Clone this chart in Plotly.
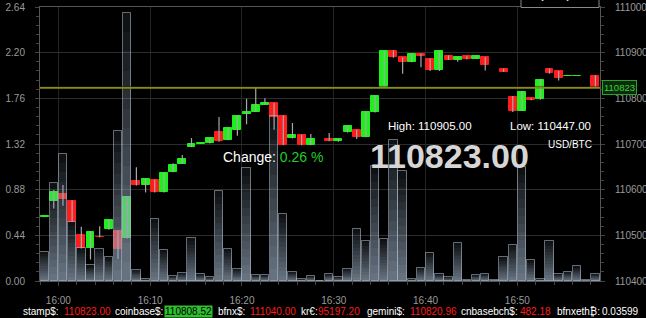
import plotly.graph_objects as go
import pandas as pd

# ---------------- data ----------------
times = pd.date_range("2024-01-01 15:58:30", periods=61, freq="min")

opens = [110541, 110575, 110591, 110576, 110501, 110472, 110497, 110513, 110510, 110494,
         110619, 110610, 110621, 110595, 110638, 110656, 110694, 110701, 110702, 110727,
         110709, 110731, 110765, 110770, 110786, 110789, 110762, 110713, 110719, 110698,
         None, 110711, 110706, 110726, 110731, 110716, 110770, 110824, 110903, 110890,
         110880, 110897, 110886, 110861, 110893, 110884, 110892, 110886, 110890, None,
         110864, 110804, 110773, 110800, 110798, 110864, 110860, 110849, 110849, None,
         110850]
highs = [110542, 110599, 110610, 110577, 110519, 110508, 110520, 110534, 110511, 110584,
         110649, 110624, 110622, 110637, 110658, 110676, 110713, 110702, 110714, 110759,
         110735, 110763, 110799, 110824, 110800, 110790, 110763, 110746, 110720, 110722,
         None, 110724, 110711, 110741, 110732, 110771, 110807, 110903, 110905, 110890,
         110898, 110898, 110887, 110903, 110894, 110891, 110892, 110893, 110890, None,
         110865, 110805, 110815, 110800, 110842, 110865, 110860, 110850, 110850, None,
         110851]
lows = [110541, 110559, 110565, 110529, 110471, 110447, 110495, 110512, 110448, 110493,
        110609, 110594, 110594, 110594, 110638, 110656, 110693, 110701, 110701, 110705,
        110708, 110718, 110743, 110770, 110786, 110731, 110697, 110712, 110697, 110697,
        None, 110706, 110705, 110725, 110711, 110715, 110769, 110823, 110889, 110854,
        110879, 110868, 110860, 110860, 110884, 110880, 110885, 110886, 110861, None,
        110858, 110770, 110772, 110796, 110797, 110854, 110839, 110849, 110849, None,
        110823]
closes = [110542, 110594, 110579, 110530, 110472, 110507, 110496, 110533, 110469, 110583,
          110610, 110623, 110595, 110637, 110655, 110667, 110700, 110702, 110713, 110706,
          110734, 110762, 110770, 110786, 110789, 110760, 110698, 110720, 110698, 110711,
          None, 110707, 110711, 110740, 110716, 110770, 110806, 110903, 110890, 110880,
          110897, 110893, 110861, 110903, 110884, 110890, 110886, 110892, 110873, None,
          110858, 110773, 110814, 110797, 110841, 110855, 110845, 110850, 110850, None,
          110823]
volumes = [0.28, 0.94, 1.22, 0.57, 0.32, 0.15, 0.31, 0.23, 1.45, 2.58,
           0.11, 0.02, 0.60, 0.30, 0.05, 0.08, 0.41, 0.07, 0.04, 0.87,
           0.31, 0.12, 1.09, 0.06, 0.06, 1.59, 0.65, 0.09, 0.02, 0.05,
           0.003, 0.07, 0.04, 0.12, 0.50, 0.39, 1.11, 0.40, 1.36, 1.06,
           0.02, 0.13, 0.27, 0.07, 0.04, 0.37, 0.01, 0.06, 0.07, 0.01,
           0.23, 0.35, 1.10, 0.20, 0.02, 0.39, 0.07, 0.09, 0.14, 0.01,
           0.07]

price_range = [110400, 111000]
volume_range = [0, 2.64]
x_range = ["2024-01-01 15:58", "2024-01-01 16:59"]

high_text = "110905.00"
low_text = "110447.00"
last_text = "110823.00"
change_text = "0.26 %"
pair_text = "USD/BTC"

ticker_names = ["stamp$:", "coinbase$:", "bfnx$:", "kr€:", "gemini$:", "cnbasebch$:", "bfnxeth₿:"]
ticker_values = ["110823.00", "110808.52", "111040.00", "95197.20", "110820.96", "482.18", "0.03599"]
ticker_value_colors = ["#ff1a1a", "#000000", "#ff1a1a", "#ff1a1a", "#ff1a1a", "#ff1a1a", "#ffffff"]
ticker_value_bg = [None, "#2fbf2f", None, None, None, None, None]

# ---------------- layout helpers (pixel geometry) ----------------
W, H = 646, 318
ML, MR, MT, MB = 40, 46, 7, 37
PW, PH = W - ML - MR, H - MT - MB


def xp(px):
    return (px - ML) / PW


def yp(py):
    return 1 - (py - MT) / PH


GREEN = "#1ef01e"
RED = "#ff1c1c"

fig = go.Figure()

# wicks
wx, wy = [], []
for t, h, l in zip(times, highs, lows):
    if h is None:
        continue
    wx += [t, t, None]
    wy += [l, h, None]
fig.add_trace(go.Scatter(x=wx, y=wy, mode="lines", line=dict(color="#a8a8a8", width=1.2),
                         yaxis="y", hoverinfo="skip", showlegend=False))

# candle bodies
bases, heights, colors = [], [], []
for o, c in zip(opens, closes):
    if o is None:
        bases.append(None); heights.append(None); colors.append(GREEN)
        continue
    bases.append(min(o, c))
    heights.append(abs(c - o))
    colors.append(GREEN if c >= o else RED)
fig.add_trace(go.Bar(x=times, y=heights, base=bases, width=52000,
                     marker=dict(color=colors, line=dict(color=colors, width=1)),
                     yaxis="y", hoverinfo="skip", showlegend=False))

# volume bars with vertical gradient (stacked slices)
N = 14
for k in range(N):
    alpha = 0.70 - 0.62 * (k + 0.5) / N
    fig.add_trace(go.Bar(x=times, y=[v / N for v in volumes], base=[v * k / N for v in volumes],
                         width=55000,
                         marker=dict(color=f"rgba(150,168,188,{alpha:.3f})", line=dict(width=0)),
                         yaxis="y2", hoverinfo="skip", showlegend=False))
fig.add_trace(go.Bar(x=times, y=volumes, width=55000,
                     marker=dict(color="rgba(0,0,0,0)", line=dict(color="rgba(165,182,200,0.6)", width=1)),
                     yaxis="y2", hoverinfo="skip", showlegend=False))

last_close = closes[-1]
px_per_unit = PH / (price_range[1] - price_range[0])
fig.add_shape(type="line", xref="paper", yref="y", x0=0, x1=1,
              y0=last_close + 1.4 / px_per_unit, y1=last_close + 1.4 / px_per_unit,
              line=dict(color="#5a0e0e", width=0.5))
fig.add_shape(type="line", xref="paper", yref="y", x0=0, x1=1, y0=last_close, y1=last_close,
              line=dict(color="#7e9414", width=1.6))

ann = []
# price tag
ann.append(dict(xref="paper", yref="y", x=1.0, y=last_close, xanchor="left", yanchor="middle",
                xshift=2, text=f"{last_close}", showarrow=False,
                font=dict(family="Liberation Sans", size=9.5, color="#36d636"),
                bgcolor="#0c2a0c", bordercolor="#2ca02c", borderwidth=1, borderpad=1))

ann.append(dict(xref="paper", yref="paper", x=xp(221), y=yp(157), xanchor="left", yanchor="middle",
                text=f"<span style='color:#ffffff'>Change:</span> <span style='color:#22cc22'>{change_text}</span>",
                showarrow=False, font=dict(family="Liberation Sans", size=14)))
ann.append(dict(xref="paper", yref="paper", x=xp(386), y=yp(126), xanchor="left", yanchor="middle",
                text=f"High: {high_text}", showarrow=False,
                font=dict(family="Liberation Sans", size=11.5, color="#ffffff")))
ann.append(dict(xref="paper", yref="paper", x=xp(508), y=yp(126), xanchor="left", yanchor="middle",
                text=f"Low: {low_text}", showarrow=False,
                font=dict(family="Liberation Sans", size=11.5, color="#ffffff")))
ann.append(dict(xref="paper", yref="paper", x=xp(594), y=yp(144.5), xanchor="right", yanchor="middle",
                text=pair_text, showarrow=False,
                font=dict(family="Liberation Sans", size=10, color="#ffffff")))
ann.append(dict(xref="paper", yref="paper", x=xp(449), y=yp(156), xanchor="center", yanchor="middle",
                text=f"<b>{last_text}</b>", showarrow=False,
                font=dict(family="Liberation Sans", size=34, color="#d6d6d6")))

# Graph Options button (cut off at top)
fig.add_shape(type="rect", xref="paper", yref="paper", x0=xp(521), x1=xp(599), y0=yp(7.5), y1=yp(-20),
              line=dict(color="#8a8a8a", width=1), fillcolor="#000000")
ann.append(dict(xref="paper", yref="paper", x=xp(560), y=yp(-5), xanchor="center", yanchor="middle",
                text="<b>Graph Options</b>", showarrow=False,
                font=dict(family="Liberation Sans", size=11, color="#dddddd")))

# ticker line
label_x = [21, 113, 216, 299, 365, 459, 555]
value_x = [62, 164, 248, 316, 408, 518, 600]
for name, val, col, bg, lx, vx in zip(ticker_names, ticker_values, ticker_value_colors,
                                      ticker_value_bg, label_x, value_x):
    ann.append(dict(xref="paper", yref="paper", x=xp(lx), y=yp(311.5), xanchor="left", yanchor="middle",
                    text=name, showarrow=False,
                    font=dict(family="Liberation Sans", size=10, color="#ffffff")))
    a = dict(xref="paper", yref="paper", x=xp(vx), y=yp(311.5), xanchor="left", yanchor="middle",
             text=val, showarrow=False, font=dict(family="Liberation Sans", size=10, color=col))
    if bg:
        a.update(bgcolor=bg, borderpad=0)
    ann.append(a)

axis_font = dict(family="Liberation Sans", size=10, color="#9a9a9a")
fig.update_layout(
    width=W, height=H, margin=dict(l=ML, r=MR, t=MT, b=MB, autoexpand=False),
    paper_bgcolor="#000000", plot_bgcolor="#000000",
    barmode="overlay", bargap=0, showlegend=False,
    annotations=ann,
    xaxis=dict(type="date", range=x_range, tickformat="%H:%M", dtick=600000,
               tick0="2024-01-01 16:00", showgrid=True, gridcolor="#242424", gridwidth=1,
               ticks="outside", ticklen=4, tickcolor="#444444", ticklabelstandoff=6,
               minor=dict(dtick=120000, ticks="outside", ticklen=3, tickcolor="#444444", showgrid=False),
               showline=True, linecolor="#555555", mirror=True, zeroline=False,
               tickfont=axis_font, automargin=False),
    yaxis=dict(side="right", range=price_range, dtick=100, tick0=110400, tickformat="d",
               showgrid=True, gridcolor="#2c2c2c", gridwidth=1,
               ticks="outside", ticklen=4, tickcolor="#444444", ticklabelstandoff=8,
               minor=dict(dtick=20, ticks="outside", ticklen=3, tickcolor="#444444", showgrid=False),
               showline=True, linecolor="#555555", mirror=True, zeroline=False,
               tickfont=axis_font, automargin=False),
    yaxis2=dict(overlaying="y", side="left", range=volume_range, dtick=0.44, tick0=0, tickformat=".2f",
                showgrid=False, ticks="outside", ticklen=4, tickcolor="#444444", ticklabelstandoff=8,
                minor=dict(dtick=0.088, ticks="outside", ticklen=3, tickcolor="#444444", showgrid=False),
                showline=False, zeroline=False, tickfont=axis_font, automargin=False),
)

fig.write_html("out.html")
